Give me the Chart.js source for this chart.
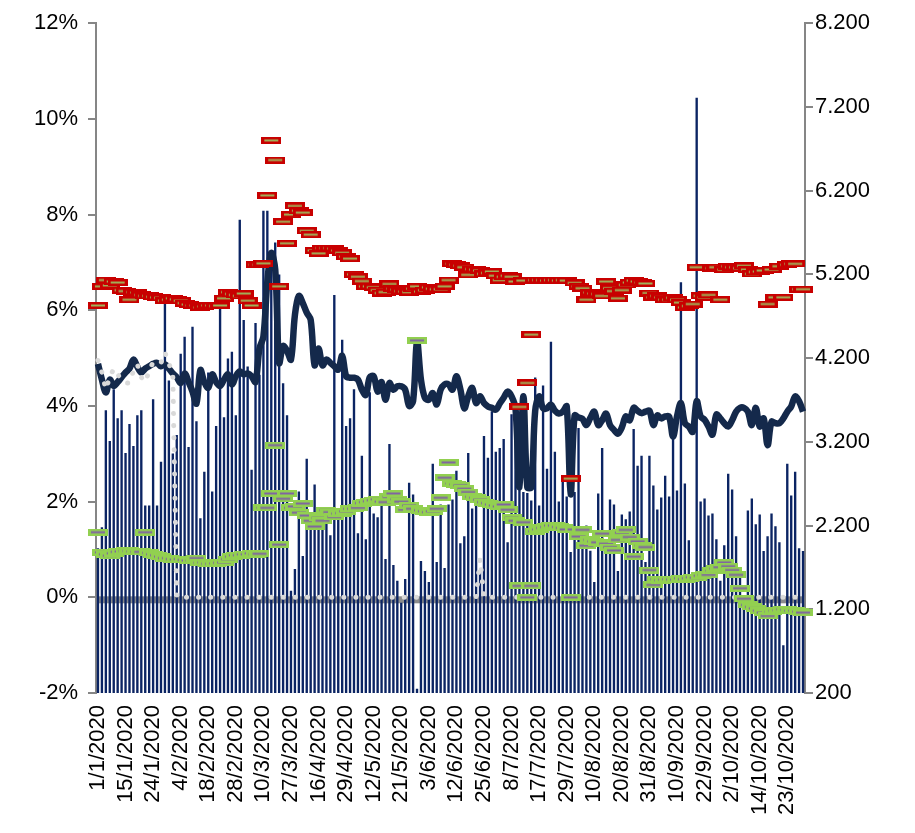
<!DOCTYPE html>
<html>
<head>
<meta charset="utf-8">
<script src="https://cdn.jsdelivr.net/npm/chart.js@4.4.1/dist/chart.umd.min.js"></script>
<style>
  html, body { margin: 0; padding: 0; background: #fff; }
  #wrap { width: 915px; height: 833px; }
</style>
</head>
<body>
<div id="wrap"><canvas id="chart" width="915" height="833"></canvas></div>
<script>
// x axis: one label every 7 sessions
const tickLabels = ['1/1/2020', '15/1/2020', '24/1/2020', '4/2/2020', '18/2/2020', '28/2/2020',
    '10/3/2020', '27/3/2020', '16/4/2020', '29/4/2020', '12/5/2020', '21/5/2020', '3/6/2020',
    '12/6/2020', '25/6/2020', '8/7/2020', '17/7/2020', '29/7/2020', '10/8/2020', '20/8/2020',
    '31/8/2020', '10/9/2020', '22/9/2020', '2/10/2020', '14/10/2020', '23/10/2020'];
const leftTickLabels = ['-2%', '0%', '2%', '4%', '6%', '8%', '10%', '12%'];
const rightTickLabels = ['200', '1.200', '2.200', '3.200', '4.200', '5.200', '6.200', '7.200', '8.200'];

// bars, right axis
const volumes = [
    1930, 2180, 3578, 3210, 3827, 3483, 3578, 3068, 3412, 3151,
    3518, 3578, 2440, 2440, 3708, 2440, 2961, 4870, 3933, 3062,
    3281, 4253, 4455, 3139, 4573, 3447, 2286, 2843, 4028, 2606,
    3388, 4787, 3495, 4194, 4277, 3518, 5853, 4656, 4099, 2867,
    4620, 4000, 5960, 5960, 5474, 5580, 5200, 3900, 3518, 1420,
    1681, 2606, 1835, 2997, 2250, 2689, 2345, 2411, 2321, 2084,
    4953, 2393, 4419, 3388, 3483, 3827, 2108, 3033, 2037, 3791,
    2345, 2298, 2440, 1800, 3175, 1729, 1540, 1279, 1563, 2712,
    2570, 250, 1776, 1658, 1527, 2938, 1764, 2452, 1693, 2452,
    2511, 2855, 1990, 2073, 3068, 2404, 2464, 1670, 3270, 3009,
    3566, 3080, 3127, 3234, 2002, 3530, 3412, 2760, 2600, 2590,
    2500, 3969, 2440, 3874, 2879, 4396, 3080, 2487, 2748, 2547,
    1883, 2600, 3364, 2050, 2200, 1900, 1527, 2582, 3127, 2000,
    2511, 2452, 1658, 2333, 2274, 2369, 3353, 2914, 3033, 1764,
    3033, 2677, 2393, 2535, 2796, 2547, 3258, 2618, 5107, 2701,
    2025, 1540, 7311, 2487, 2523, 2321, 2345, 2037, 1540, 1966,
    2819, 2630, 2073, 1587, 1338, 2381, 2523, 2215, 2333, 1895,
    2073, 2345, 2191, 2002, 770, 2938, 2559, 2843, 1930, 1895
];

// thick navy line, left axis (%)
const mainLine = [
    4.88, 4.55, 4.28, 4.55, 4.42, 4.5, 4.6, 4.7, 4.78, 4.97,
    4.82, 4.7, 4.78, 4.83, 4.88, 4.9, 4.83, 4.87, 4.78, 4.68,
    4.6, 4.48, 4.68, 4.5, 4.3, 4.05, 4.75, 4.5, 4.38, 4.66,
    4.5, 4.42, 4.55, 4.66, 4.45, 4.62, 4.72, 4.66, 4.68, 4.62,
    4.5, 5.2, 5.45, 6.6, 7.2, 6.85, 4.9, 5.25, 5.15, 4.97,
    5.9, 6.3, 6.15, 5.95, 5.8, 4.85, 5.2, 4.85, 4.97, 4.9,
    4.83, 4.76, 5.05, 4.62, 4.59, 4.59, 4.55, 4.34, 4.23, 4.6,
    4.62, 4.3, 4.5, 4.13, 4.48, 4.34, 4.41, 4.41, 4.34, 4.0,
    4.1, 5.35, 4.55, 4.17, 4.13, 4.27, 4.03, 4.34, 4.45, 4.45,
    4.34, 4.62, 4.35, 3.95, 4.2, 4.38, 4.06, 4.2, 4.06, 3.99,
    3.96, 3.92, 4.05, 4.17, 4.3, 4.2, 3.95, 2.3, 4.2, 2.3,
    2.3, 3.9, 4.2, 3.95, 3.95, 4.03, 3.9, 3.84, 3.88, 3.99,
    2.15, 3.8, 3.76, 3.73, 3.6, 3.75, 3.88, 3.6, 3.7, 3.84,
    3.6, 3.5, 3.42, 3.55, 3.78, 3.7, 3.96, 3.9, 3.85, 3.88,
    3.9, 3.6, 3.8, 3.74, 3.78, 3.78, 3.36, 3.78, 4.06, 3.64,
    3.57, 3.46, 4.1, 3.78, 3.71, 3.57, 3.4, 3.82, 3.74, 3.64,
    3.57, 3.7, 3.88, 3.96, 3.96, 3.88, 3.6, 3.96, 3.57, 3.74,
    3.18, 3.67, 3.64, 3.64, 3.74, 3.88, 3.99, 4.2, 4.1, 3.88
];

// red dash markers, left axis (%)
const redMarks = [
    6.1, 6.5, 6.63, 6.52, 6.6, 6.58, 6.42, 6.4, 6.22, 6.38,
    6.37, 6.32, 6.3, 6.3, 6.28, 6.27, 6.26, 6.2, 6.22, 6.25,
    6.23, 6.2, 6.15, 6.12, 6.1, 6.1, 6.06, 6.08, 6.1, 6.1,
    6.09, 6.1, 6.25, 6.38, 6.34, 6.32, 6.3, 6.35, 6.2, 6.1,
    6.95, 6.95, 6.98, 8.4, 9.55, 9.14, 6.5, 7.85, 7.4, 8.0,
    8.18, 8.08, 8.04, 7.66, 7.58, 7.25, 7.19, 7.3, 7.3, 7.3,
    7.29, 7.25, 7.2, 7.12, 7.08, 6.75, 6.7, 6.61, 6.5, 6.5,
    6.48, 6.42, 6.36, 6.38, 6.55, 6.45, 6.43, 6.4, 6.39, 6.38,
    6.45, 6.5, 6.39, 6.42, 6.48, 6.45, 6.44, 6.44, 6.5, 6.63,
    6.97, 6.95, 6.93, 6.9, 6.74, 6.86, 6.85, 6.83, 6.76, 6.78,
    6.81, 6.72, 6.63, 6.7, 6.72, 6.7, 6.6, 3.98, 6.62, 4.48,
    5.49, 6.63, 6.63, 6.63, 6.62, 6.63, 6.63, 6.62, 6.63, 6.62,
    2.48, 6.57, 6.5, 6.46, 6.22, 6.37, 6.35, 6.34, 6.3, 6.6,
    6.46, 6.4, 6.25, 6.42, 6.53, 6.58, 6.62, 6.6, 6.58, 6.56,
    6.36, 6.27, 6.3, 6.27, 6.22, 6.22, 6.26, 6.22, 6.16, 6.06,
    6.09, 6.13, 6.9, 6.3, 6.27, 6.32, 6.88, 6.9, 6.22, 6.85,
    6.92, 6.9, 6.9, 6.88, 6.93, 6.85, 6.76, 6.8, 6.81, 6.83,
    6.13, 6.85, 6.27, 6.92, 6.27, 6.95, 6.97, 6.97, 6.44, 6.44
];

// green dash markers, left axis (%)
const greenMarks = [
    1.36, 0.94, 0.9, 0.87, 0.92, 0.95, 0.96, 0.97, 0.97, 0.96,
    0.95, 0.95, 1.36, 0.93, 0.9, 0.88, 0.85, 0.82, 0.82, 0.8,
    0.79, 0.8, 0.78, 0.77, 0.77, 0.82, 0.72, 0.73, 0.7, 0.7,
    0.71, 0.72, 0.73, 0.8, 0.85, 0.88, 0.88, 0.9, 0.9, 0.92,
    0.9, 0.91, 1.87, 1.87, 2.17, 3.18, 1.1, 2.06, 2.17, 1.87,
    1.9, 1.77, 1.96, 1.71, 1.6, 1.48, 1.66, 1.6, 1.82, 1.78,
    1.68, 1.75, 1.76, 1.8, 1.85, 1.85, 1.87, 1.97, 1.99, 2.01,
    2.03, 2.05, 2.0, 1.99, 2.1, 2.17, 2.05, 2.0, 1.83, 1.92,
    1.85, 5.37, 1.82, 1.8, 1.78, 1.8, 1.85, 2.08, 2.5, 2.82,
    2.38, 2.36, 2.34, 2.27, 2.2, 2.1, 2.08, 2.04, 1.99, 1.97,
    1.94, 1.92, 1.9, 1.94, 1.83, 1.66, 1.6, 0.24, 1.57, 0.0,
    0.24, 1.38, 1.42, 1.45, 1.47, 1.5, 1.5, 1.47, 1.45, 1.42,
    0.0, 1.42, 1.27, 1.41, 1.08, 1.2, 1.17, 1.15, 1.33, 1.12,
    1.05, 0.98, 1.2, 1.35, 1.41, 1.26, 0.85, 1.17, 1.08, 1.05,
    0.57, 0.26, 0.38, 0.36, 0.37, 0.38, 0.37, 0.37, 0.4, 0.38,
    0.4, 0.42, 0.41, 0.45, 0.47, 0.47, 0.56, 0.6, 0.63, 0.73,
    0.65, 0.57, 0.47, 0.19, -0.03, -0.16, -0.2, -0.23, -0.28, -0.32,
    -0.39, -0.3, -0.28, -0.27, -0.25, -0.26, -0.28, -0.28, -0.3, -0.32
];

// light grey dotted line, left axis (%)
const greyDots = [
    4.95, 4.7, 4.35, 4.6, 4.78, 4.66, 4.55, 4.48, 4.48, 4.73,
    4.87, 4.6, 4.5, 4.73, 4.92, 4.91, 4.9, 5.12, 4.89, 4.66,
    0, 0, 0, 0, 0, 0, 0, 0, 0, 0,
    0, 0, 0, 0, 0, 0, 0, 0, 0, 0,
    0, 0, 0, 0, 0, 0, 0, 0, 0, 0,
    0, 0, 0, 0, 0, 0, 0, 0, 0, 0,
    0, 0, 0, 0, 0, 0, 0, 0, 0, 0,
    0, 0, 0, 0, 0, 0, 0, 0, 0, 0,
    0, 0, 0, 0, 0, 0, 0, 0, 0, 0,
    0, 0, 0, 0, 0, 0, 0, 0.8, 0, 0,
    0, 0, 0, 0, 0, 0, 0, 0, 0, 0,
    0, 0, 0, 0, 0, 0, 0, 0, 0, 0,
    0, 0, 0, 0, 0, 0, 0, 0, 0, 0,
    0, 0, 0, 0, 0, 0, 0, 0, 0, 0,
    0, 0, 0, 0, 0, 0, 0, 0, 0, 0,
    0, 0, 0, 0, 0, 0, 0, 0, 0, 0,
    0, 0, 0, 0, 0, 0, 0, 0, 0, 0,
    0, 0, 0, 0, 0, 0, 0, 0, 0, 0
];

const categories = volumes.map((v, i) => (i % 7 === 0 && tickLabels[i / 7]) ? tickLabels[i / 7] : '');

function makeDash(border, fill) {
    const c = document.createElement('canvas');
    c.width = 20;
    c.height = 7;
    const g = c.getContext('2d');
    g.fillStyle = border;
    g.fillRect(0, 0, 20, 7);
    g.fillStyle = fill;
    g.fillRect(3, 2.5, 14, 2);
    return c;
}
const redDash = makeDash('#c80000', '#9fb35a');
const greenDash = makeDash('#92d050', '#8064a2');

const axisGrey = '#868686';
const font = { family: "'Liberation Sans', Arial, sans-serif", size: 22 };

// category axis line + tick marks sitting on 0%
const zeroBand = {
    id: 'zeroBand',
    beforeDatasetsDraw(chart) {
        const { ctx, chartArea, scales } = chart;
        const y0 = scales.y.getPixelForValue(0);
        ctx.save();
        ctx.fillStyle = '#8c8c8c';
        ctx.fillRect(chartArea.left, y0 - 1, chartArea.right - chartArea.left, 7);
        ctx.restore();
    }
};

new Chart(document.getElementById('chart'), {
    type: 'bar',
    data: {
        labels: categories,
        datasets: [
            {
                type: 'scatter',
                data: greenMarks,
                showLine: false,
                pointStyle: greenDash,
                clip: false,
                yAxisID: 'y',
                order: 0
            },
            {
                type: 'scatter',
                data: redMarks,
                showLine: false,
                pointStyle: redDash,
                clip: false,
                yAxisID: 'y',
                order: 1
            },
            {
                type: 'line',
                data: greyDots,
                borderColor: '#d9d9d9',
                borderWidth: 5,
                borderDash: [0.1, 12],
                borderCapStyle: 'round',
                pointRadius: 0,
                tension: 0,
                yAxisID: 'y',
                order: 2
            },
            {
                type: 'line',
                data: mainLine,
                borderColor: '#14294b',
                borderWidth: 6.5,
                pointRadius: 0,
                tension: 0.35,
                borderJoinStyle: 'round',
                yAxisID: 'y',
                order: 3
            },
            {
                type: 'bar',
                data: volumes,
                backgroundColor: '#0b2463',
                barPercentage: 0.6,
                categoryPercentage: 1,
                yAxisID: 'y1',
                order: 4
            }
        ]
    },
    options: {
        responsive: false,
        animation: false,
        layout: { padding: { top: 18, left: 0, right: 0, bottom: 0 } },
        plugins: { legend: { display: false }, tooltip: { enabled: false } },
        scales: {
            x: {
                type: 'category',
                offset: true,
                grid: { display: false, drawTicks: false },
                border: { display: false },
                ticks: {
                    autoSkip: false,
                    maxRotation: 90,
                    minRotation: 90,
                    padding: 12,
                    color: '#000',
                    font: { family: font.family, size: 22 }
                },
                afterFit: s => { s.height = 140; }
            },
            y: {
                position: 'left',
                min: -2,
                max: 12,
                ticks: {
                    stepSize: 2,
                    padding: 10,
                    color: '#000',
                    font: font,
                    callback: (v, i) => leftTickLabels[i]
                },
                grid: { drawOnChartArea: false, color: axisGrey, tickLength: 8, lineWidth: 2 },
                border: { color: axisGrey, width: 2 },
                afterFit: s => { s.width = 96; }
            },
            y1: {
                position: 'right',
                min: 200,
                max: 8200,
                ticks: {
                    stepSize: 1000,
                    padding: 2,
                    color: '#000',
                    font: font,
                    callback: (v, i) => rightTickLabels[i]
                },
                grid: { drawOnChartArea: false, color: axisGrey, tickLength: 8, lineWidth: 2 },
                border: { color: axisGrey, width: 2 },
                afterFit: s => { s.width = 110; }
            }
        }
    },
    plugins: [zeroBand]
});
</script>
</body>
</html>
